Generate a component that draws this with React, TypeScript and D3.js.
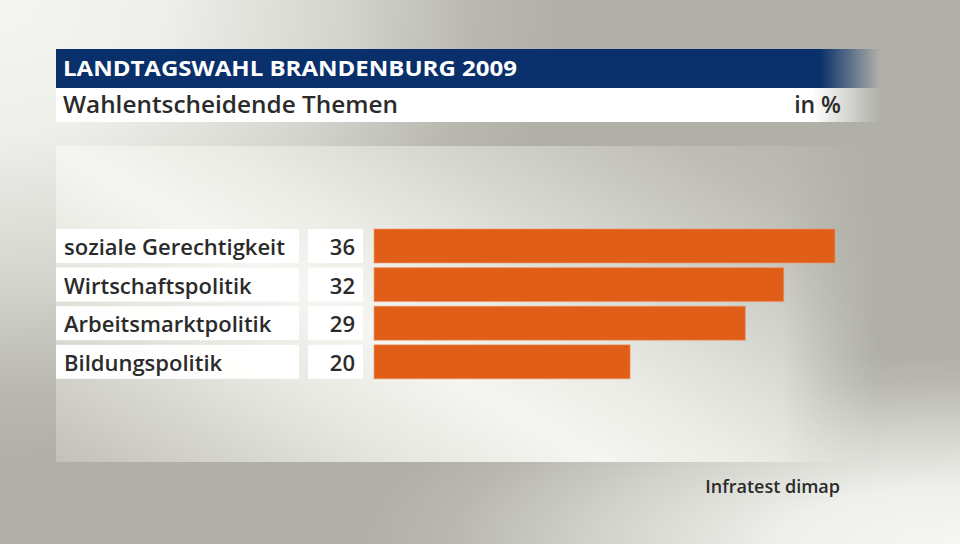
import React from "react";
import * as d3 from "d3";

const categories = ["soziale Gerechtigkeit", "Wirtschaftspolitik", "Arbeitsmarktpolitik", "Bildungspolitik"];
const values = [36, 32, 29, 20];
const titleText = "LANDTAGSWAHL BRANDENBURG 2009";
const subtitleText = "Wahlentscheidende Themen";
const unitText = "in %";
const sourceText = "Infratest dimap";

const W = 960;
const H = 544;
const FONT = "'Open Sans', 'DejaVu Sans', sans-serif";

export default function App() {
  const y = d3
    .scaleBand<string>()
    .domain(categories)
    .range([229, 378.8])
    .paddingInner(0.12)
    .paddingOuter(0);
  const x = d3.scaleLinear().domain([0, d3.max(values) as number]).range([374, 835]);
  const bw = y.bandwidth();

  return (
    <svg
      width={W}
      height={H}
      viewBox={`0 0 ${W} ${H}`}
      style={{ position: "absolute", left: 0, top: 0, display: "block" }}
    >
      <defs>
        <radialGradient id="tlGlow">
          <stop offset="0" stopColor="#f5f5f1" stopOpacity={1} />
          <stop offset="0.3" stopColor="#f5f5f1" stopOpacity={0.9} />
          <stop offset="0.6" stopColor="#f5f5f1" stopOpacity={0.55} />
          <stop offset="0.85" stopColor="#f5f5f1" stopOpacity={0.12} />
          <stop offset="1" stopColor="#f5f5f1" stopOpacity={0} />
        </radialGradient>
        <radialGradient id="brGlow">
          <stop offset="0" stopColor="#f6f6f2" stopOpacity={1} />
          <stop offset="0.3" stopColor="#f6f6f2" stopOpacity={0.9} />
          <stop offset="0.6" stopColor="#f6f6f2" stopOpacity={0.5} />
          <stop offset="0.85" stopColor="#f6f6f2" stopOpacity={0.12} />
          <stop offset="1" stopColor="#f6f6f2" stopOpacity={0} />
        </radialGradient>
        <linearGradient id="panelGrad" gradientUnits="userSpaceOnUse" x1={-84.6} y1={388} x2={266.9} y2={-217}>
          <stop offset="0" stopColor="#c0c0b8" />
          <stop offset="0.266" stopColor="#e8e8e2" />
          <stop offset="0.4" stopColor="#f5f5f1" />
          <stop offset="0.514" stopColor="#ecece6" />
          <stop offset="0.601" stopColor="#e0e0da" />
          <stop offset="0.7" stopColor="#d2d2cc" />
          <stop offset="0.85" stopColor="#bdbdb5" />
          <stop offset="1" stopColor="#b4b4ac" />
        </linearGradient>
        <linearGradient id="fadeRight" x1="0" y1="0" x2="1" y2="0">
          <stop offset="0" stopColor="#fff" />
          <stop offset="0.88" stopColor="#fff" />
          <stop offset="1" stopColor="#000" />
        </linearGradient>
        <mask id="panelMask" maskUnits="userSpaceOnUse" x={0} y={0} width={W} height={H}>
          <rect x={56} y={146} width={824} height={316} fill="url(#fadeRight)" />
        </mask>
        <linearGradient id="blueFade" x1="0" y1="0" x2="1" y2="0">
          <stop offset="0" stopColor="#0a306b" stopOpacity={1} />
          <stop offset="0.927" stopColor="#0a306b" stopOpacity={1} />
          <stop offset="1" stopColor="#0a306b" stopOpacity={0} />
        </linearGradient>
        <linearGradient id="whiteFade" x1="0" y1="0" x2="1" y2="0">
          <stop offset="0" stopColor="#ffffff" stopOpacity={1} />
          <stop offset="0.918" stopColor="#ffffff" stopOpacity={1} />
          <stop offset="1" stopColor="#ffffff" stopOpacity={0} />
        </linearGradient>
      </defs>

      {/* background */}
      <rect x={0} y={0} width={W} height={H} fill="#b0b0a8" />
      <ellipse cx={0} cy={0} rx={560} ry={460} fill="url(#tlGlow)" />
      <ellipse cx={W} cy={H} rx={600} ry={190} fill="url(#brGlow)" />

      {/* panel */}
      <rect x={56} y={146} width={824} height={316} fill="url(#panelGrad)" mask="url(#panelMask)" />

      {/* header */}
      <rect x={56} y={49} width={824} height={39} fill="url(#blueFade)" />
      <rect x={56} y={88} width={824} height={34} fill="url(#whiteFade)" />
      <text
        x={63}
        y={76}
        fill="#ffffff"
        fontFamily={FONT}
        fontWeight={700}
        fontSize={22}
        textLength={454}
        lengthAdjust="spacingAndGlyphs"
      >
        {titleText}
      </text>
      <text
        x={63}
        y={113}
        fill="#2b2b2b"
        fontFamily={FONT}
        fontWeight={600}
        fontSize={23}
        textLength={335}
        lengthAdjust="spacingAndGlyphs"
      >
        {subtitleText}
      </text>
      <text x={841} y={113} fill="#2b2b2b" fontFamily={FONT} fontWeight={600} fontSize={23} textAnchor="end">
        {unitText}
      </text>

      {/* rows */}
      {categories.map((c, i) => {
        const top = y(c) as number;
        return (
          <g key={c}>
            <rect x={56} y={top} width={243} height={bw} fill="#ffffff" fillOpacity={0.97} />
            <rect x={308} y={top} width={55} height={bw} fill="#ffffff" fillOpacity={0.97} />
            <rect
              x={x(0)}
              y={top}
              width={x(values[i]) - x(0)}
              height={bw}
              fill="#e05e17"
              stroke="#ec9a70"
              strokeWidth={1}
              strokeOpacity={0.6}
            />
            <text x={64} y={top + 26} fill="#2b2b2b" fontFamily={FONT} fontWeight={600} fontSize={22}>
              {c}
            </text>
            <text
              x={355}
              y={top + 26}
              fill="#2b2b2b"
              fontFamily={FONT}
              fontWeight={600}
              fontSize={22}
              textAnchor="end"
            >
              {values[i]}
            </text>
          </g>
        );
      })}

      {/* source */}
      <text x={840} y={493} fill="#2b2b2b" fontFamily={FONT} fontWeight={600} fontSize={18} textAnchor="end">
        {sourceText}
      </text>
    </svg>
  );
}
